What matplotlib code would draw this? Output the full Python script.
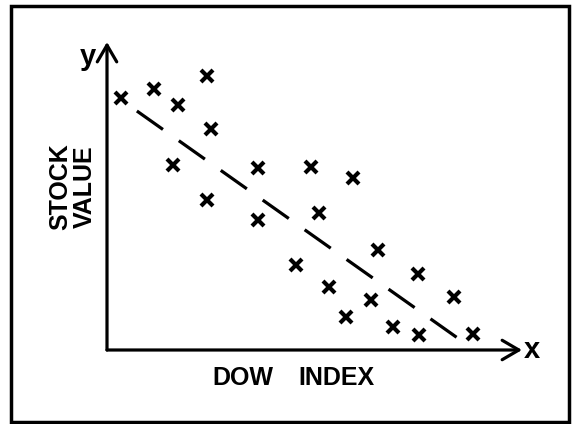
import matplotlib
matplotlib.use('Agg')
import matplotlib.pyplot as plt
from matplotlib.patches import Rectangle

# scatter of stock value vs Dow index (arbitrary units, 0-100)
dow_index = [3.4, 11.3, 17.1, 24.1, 25.1, 15.9, 24.1, 36.4, 36.4, 49.2, 51.1,
             59.3, 65.3, 45.5, 53.5, 57.6, 63.6, 74.9, 68.9, 75.2, 83.6, 88.2]
stock_value = [81.8, 84.7, 79.5, 89.0, 71.8, 60.1, 48.7, 59.1, 42.2, 59.4, 44.5,
               55.8, 32.5, 27.6, 20.5, 10.7, 16.2, 24.7, 7.5, 4.9, 17.2, 5.2]

# dashed trend line end points
fit_x = [7.2, 87.2]
fit_y = [77.6, 1.3]

plt.rcParams['font.family'] = ['Liberation Sans', 'DejaVu Sans']
plt.rcParams['font.weight'] = 'bold'
plt.rcParams['lines.scale_dashes'] = False

W, H = 572, 424
fig = plt.figure(figsize=(W / 100, H / 100), dpi=100)
fig.patch.set_facecolor('white')

# outer frame
fig.patches.append(Rectangle((11 / W, 1 - 422 / H), 558 / W, 416 / H,
                             transform=fig.transFigure, fill=False,
                             edgecolor='black', linewidth=2.5))

ax = fig.add_axes([107 / W, 1 - 350 / H, 415 / W, 308 / H])
ax.set_xlim(0, 100)
ax.set_ylim(0, 100)
ax.axis('off')

# axes with open arrow heads
arrow = dict(arrowstyle='->,head_length=0.6,head_width=0.35', lw=2.3,
             color='black', mutation_scale=20, shrinkA=0, shrinkB=0)
ax.annotate('', xy=(100, 0), xytext=(0, 0), arrowprops=arrow,
            annotation_clip=False)
ax.annotate('', xy=(0, 100), xytext=(0, 0), arrowprops=arrow,
            annotation_clip=False)

ax.plot(dow_index, stock_value, linestyle='none', marker='x', color='black',
        markersize=8.5, markeredgewidth=3, clip_on=False)

ax.plot(fit_x, fit_y, color='black', linewidth=2.3, dashes=(23, 14),
        solid_capstyle='butt', dash_capstyle='butt', clip_on=False)

ax.text(0.3265, -0.091, 'DOW', transform=ax.transAxes, fontsize=18,
        ha='center', va='center')
ax.text(0.552, -0.091, 'INDEX', transform=ax.transAxes, fontsize=18,
        ha='center', va='center')
ax.text(-0.113, 0.529, 'STOCK', transform=ax.transAxes, fontsize=18,
        rotation=90, ha='center', va='center')
ax.text(-0.053, 0.529, 'VALUE', transform=ax.transAxes, fontsize=18,
        rotation=90, ha='center', va='center')
ax.text(-0.046, 0.951, 'y', transform=ax.transAxes, fontsize=21,
        ha='center', va='center')
ax.text(1.024, 0.0, 'x', transform=ax.transAxes, fontsize=21,
        ha='center', va='center')

fig.savefig('out.png', dpi=100)
